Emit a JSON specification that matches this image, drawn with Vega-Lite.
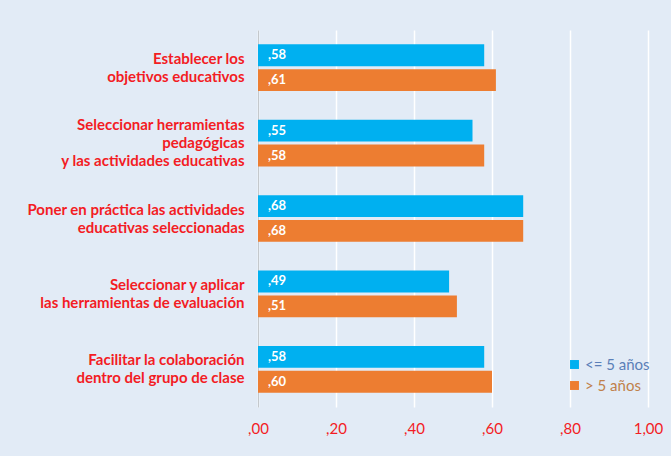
{
  "$schema": "https://vega.github.io/schema/vega-lite/v6.json",
  "width": 390,
  "height": 377,
  "autosize": {"type": "none"},
  "padding": {"left": 258, "top": 30, "right": 23, "bottom": 49},
  "background": "#e2ebf6",
  "config": {
    "view": {"stroke": null},
    "font": "Lato"
  },
  "data": {
    "values": [
      {"cat": "Establecer los|objetivos educativos", "grupo": "<= 5 años", "v": 0.58},
      {"cat": "Establecer los|objetivos educativos", "grupo": "> 5 años", "v": 0.61},
      {"cat": "Seleccionar herramientas|pedagógicas|y las actividades educativas", "grupo": "<= 5 años", "v": 0.55},
      {"cat": "Seleccionar herramientas|pedagógicas|y las actividades educativas", "grupo": "> 5 años", "v": 0.58},
      {"cat": "Poner en práctica las actividades|educativas seleccionadas", "grupo": "<= 5 años", "v": 0.68},
      {"cat": "Poner en práctica las actividades|educativas seleccionadas", "grupo": "> 5 años", "v": 0.68},
      {"cat": "Seleccionar y aplicar|las herramientas de evaluación", "grupo": "<= 5 años", "v": 0.49},
      {"cat": "Seleccionar y aplicar|las herramientas de evaluación", "grupo": "> 5 años", "v": 0.51},
      {"cat": "Facilitar la colaboración|dentro del grupo de clase", "grupo": "<= 5 años", "v": 0.58},
      {"cat": "Facilitar la colaboración|dentro del grupo de clase", "grupo": "> 5 años", "v": 0.60}
    ]
  },
  "encoding": {
    "y": {
      "field": "cat",
      "type": "nominal",
      "sort": null,
      "title": null,
      "scale": {"paddingInner": 0.38, "paddingOuter": 0.19},
      "axis": {
        "labelExpr": "split(datum.value, '|')",
        "labelOffset": {"expr": "-(length(split(datum.value, '|')) - 1) * 9"},
        "labelColor": "#f31c24",
        "labelFontWeight": "bold",
        "labelFontSize": 15,
        "labelLineHeight": 18,
        "labelPadding": 14,
        "labelLimit": 300,
        "ticks": false,
        "domainColor": "#c4c8cc",
        "domainWidth": 1,
        "grid": false
      }
    },
    "yOffset": {"field": "grupo", "type": "nominal", "sort": ["<= 5 años", "> 5 años"], "scale": {"paddingInner": 0.12}}
  },
  "layer": [
    {
      "mark": {"type": "bar"},
      "encoding": {
        "x": {
          "field": "v",
          "type": "quantitative",
          "title": null,
          "scale": {"domain": [0, 1], "nice": false},
          "axis": {
            "values": [0, 0.2, 0.4, 0.6, 0.8, 1],
            "labelExpr": "replace(datum.value < 1 ? substring(format(datum.value, '.2f'), 1) : format(datum.value, '.2f'), '.', ',')",
            "labelColor": "#f31c24",
            "labelFontSize": 15,
            "labelPadding": 14,
            "labelFlush": false,
            "domain": false,
            "ticks": false,
            "grid": true,
            "gridColor": "#ffffff",
            "gridWidth": 1.5
          }
        },
        "color": {
          "field": "grupo",
          "type": "nominal",
          "sort": ["<= 5 años", "> 5 años"],
          "scale": {"domain": ["<= 5 años", "> 5 años"], "range": ["#00b0f0", "#ed7d31"]},
          "legend": {
            "title": null,
            "orient": "none",
            "legendX": 309,
            "legendY": 327,
            "symbolType": "square",
            "symbolSize": 80,
            "symbolStrokeWidth": 0,
            "labelFontSize": 15,
            "labelFont": "Lato",
            "rowPadding": 5,
            "labelOffset": 3,
            "encode": {
              "labels": {
                "update": {
                  "fill": {"signal": "datum.value == '<= 5 años' ? '#5b7fb8' : '#c0804a'"}
                }
              }
            }
          }
        }
      }
    },
    {
      "transform": [
        {"calculate": "replace(substring(format(datum.v, '.2f'), 1), '.', ',')", "as": "lab"}
      ],
      "mark": {"type": "text", "align": "left", "dx": 10, "color": "#ffffff", "fontWeight": "bold", "fontSize": 13, "baseline": "middle"},
      "encoding": {
        "x": {"datum": 0, "type": "quantitative"},
        "text": {"field": "lab", "type": "nominal"}
      }
    }
  ]
}
